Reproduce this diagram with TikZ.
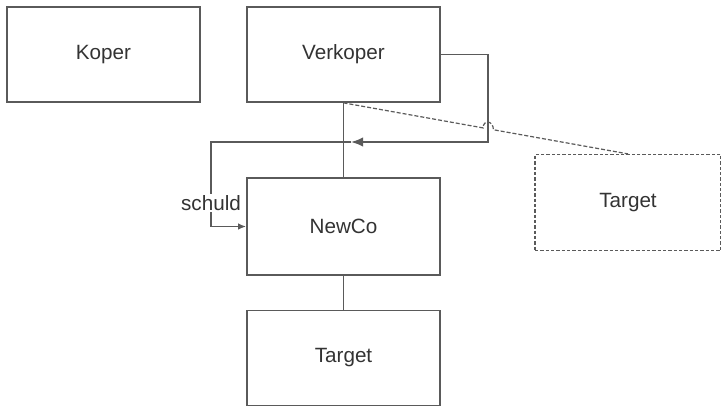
\documentclass[tikz,border=0pt]{standalone}
\usepackage{fontspec}
\setmainfont{Liberation Sans}
\usetikzlibrary{arrows.meta}
\definecolor{linegray}{HTML}{5A5A5A}
\definecolor{textgray}{HTML}{333333}
\tikzstyle{box} = [rectangle, minimum width=144.75pt, minimum height=71.25pt, text centered, draw=linegray, line width=1.3pt, text=textgray, font=\fontsize{15.5}{18}\selectfont]
\tikzstyle{dashbox} = [box, minimum width=139.5pt, minimum height=72pt, line width=0.9pt, dash pattern=on 2.5pt off 1.5pt]
\tikzstyle{conn} = [draw=linegray, line width=1.2pt]
\tikzstyle{dconn} = [draw=linegray, line width=0.9pt, dash pattern=on 3pt off 1.5pt]

\begin{document}
\begin{tikzpicture}[x=0.75pt,y=-0.75pt]
\useasboundingbox (0,0) rectangle (721,407);

\node[box] (koper) at (103.5,54.5) {Koper};
\node[box] (verk) at (343.5,54.5) {Verkoper};
\node[box, minimum height=72.75pt] (newco) at (343.5,226.5) {NewCo};
\node[box] (target) at (343.5,358) {Target};
\node[dashbox] (targetd) at (628,202.5) {Target};

\draw[conn] (verk) -- (newco);
\draw[conn] (newco) -- (target);

% schuld loop
\coordinate (rgt) at (488,142);
\coordinate (tip) at (351,142);
\coordinate (lft) at (211,142);
\draw[conn,-{Latex[length=9pt,width=7pt]}] (verk.east) -| (rgt) -- (tip);
\draw[conn,-{Latex[length=6pt,width=5pt]}] (tip) -- (lft) |- node[pos=0.36,fill=white,inner sep=1pt,text=textgray,font=\fontsize{15.5}{18}\selectfont]{schuld} (newco.west);

% dashed link with a hop over the loop
\path (verk.south) -- coordinate[pos=0.491] (hopa) coordinate[pos=0.527] (hopb) (targetd.north);
\draw[dconn] (verk.south) -- (hopa) .. controls +(0,-9) and +(0,-9) .. (hopb) -- (targetd.north);
\end{tikzpicture}
\end{document}
